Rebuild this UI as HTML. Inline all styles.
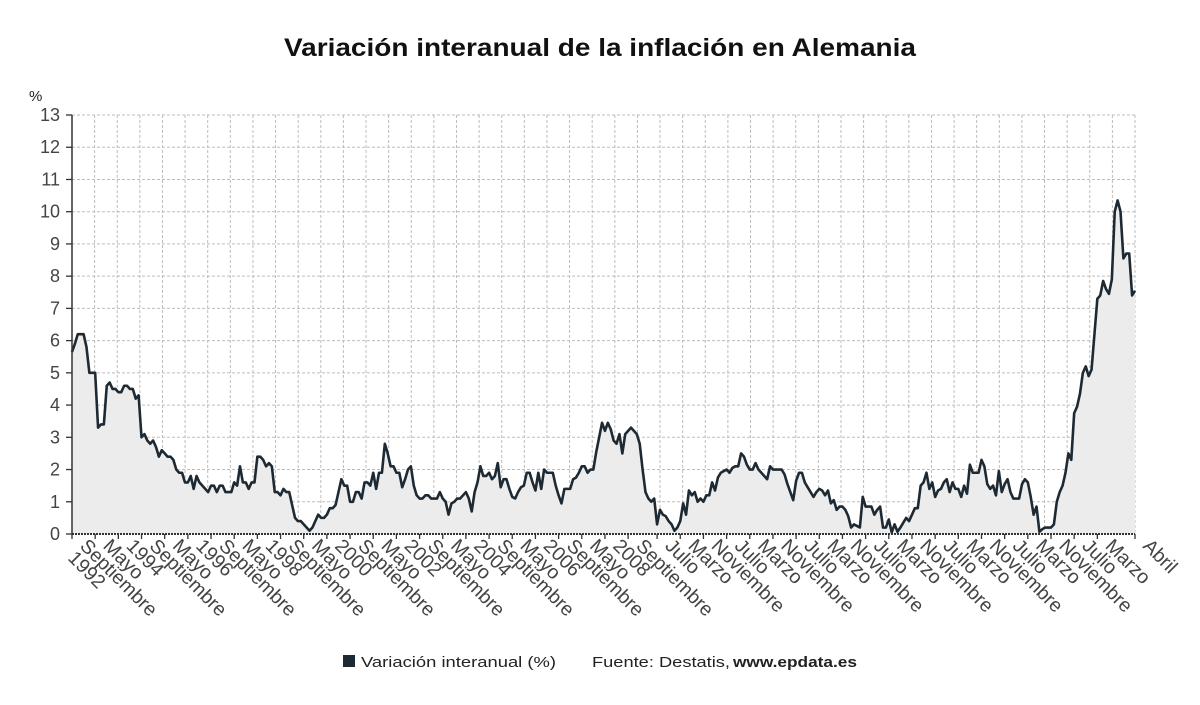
<!DOCTYPE html>
<html><head><meta charset="utf-8"><style>
html,body{margin:0;padding:0;background:#fff;}
svg{display:block;font-family:"Liberation Sans",sans-serif;}
</style></head><body>
<svg id="chart" width="1200" height="705" viewBox="0 0 1200 705">
<text x="600" y="56" text-anchor="middle" font-size="25" font-weight="bold" fill="#111" textLength="632" lengthAdjust="spacingAndGlyphs">Variación interanual de la inflación en Alemania</text>
<text x="29" y="101" font-size="15" fill="#222">%</text>
<g id="grid"></g>
<g id="area"></g>
<g id="axes"></g>
<g id="xlabels"></g>
<g>
<rect x="343" y="655" width="12" height="12" fill="#1e2a33"/>
<text x="361" y="667" font-size="15" fill="#222" textLength="195" lengthAdjust="spacingAndGlyphs">Variación interanual (%)</text>
<text x="592" y="667" font-size="15" fill="#222"><tspan textLength="138" lengthAdjust="spacingAndGlyphs">Fuente: Destatis,</tspan> <tspan font-weight="bold" x="733" textLength="124" lengthAdjust="spacingAndGlyphs">www.epdata.es</tspan></text>
</g>
</svg>
<script>
const values = [
5.65,5.9,6.2,6.2,6.2,5.8,5.0,5.0,5.0,3.3,3.4,3.4,
4.6,4.7,4.5,4.5,4.4,4.4,4.6,4.6,4.5,4.5,4.2,4.3,
3.0,3.1,2.9,2.8,2.9,2.7,2.4,2.6,2.5,2.4,2.4,2.3,
2.0,1.9,1.9,1.6,1.6,1.8,1.4,1.8,1.6,1.5,1.4,1.3,
1.5,1.5,1.3,1.5,1.5,1.3,1.3,1.3,1.6,1.5,2.1,1.6,
1.6,1.4,1.6,1.6,2.4,2.4,2.3,2.1,2.2,2.1,1.3,1.3,
1.2,1.4,1.3,1.3,0.9,0.5,0.4,0.4,0.3,0.2,0.1,0.2,
0.4,0.6,0.5,0.5,0.6,0.8,0.8,0.9,1.3,1.7,1.5,1.5,
1.0,1.0,1.3,1.3,1.1,1.6,1.6,1.5,1.9,1.4,1.9,1.9,
2.8,2.5,2.1,2.1,1.9,1.9,1.45,1.7,2.0,2.1,1.5,1.2,
1.1,1.1,1.2,1.2,1.1,1.1,1.1,1.3,1.1,1.0,0.6,0.95,
1.0,1.1,1.1,1.2,1.3,1.1,0.7,1.3,1.6,2.1,1.8,1.8,
1.9,1.7,1.8,2.2,1.45,1.7,1.7,1.4,1.15,1.1,1.3,1.45,
1.5,1.9,1.9,1.6,1.35,1.9,1.4,2.0,1.9,1.9,1.9,1.5,
1.2,0.95,1.4,1.4,1.4,1.7,1.75,1.9,2.1,2.1,1.9,2.0,
2.0,2.55,3.0,3.45,3.2,3.45,3.25,2.9,2.8,3.1,2.5,3.1,
3.2,3.3,3.2,3.1,2.8,2.0,1.3,1.1,1.0,1.1,0.3,0.75,
0.6,0.55,0.4,0.3,0.1,0.2,0.4,0.95,0.6,1.35,1.2,1.3,
1.0,1.1,1.0,1.2,1.2,1.6,1.35,1.75,1.9,1.95,2.0,1.9,
2.05,2.1,2.1,2.5,2.4,2.15,2.0,2.0,2.2,2.0,1.9,1.8,
1.7,2.1,2.0,2.0,2.0,2.0,1.85,1.55,1.3,1.05,1.65,1.9,
1.9,1.6,1.45,1.3,1.15,1.3,1.4,1.35,1.2,1.35,0.95,1.05,
0.75,0.85,0.85,0.75,0.55,0.2,0.3,0.25,0.2,1.15,0.85,0.85,
0.85,0.6,0.75,0.85,0.2,0.2,0.45,0.05,0.3,0.07,0.2,0.35,
0.5,0.4,0.6,0.8,0.8,1.5,1.6,1.9,1.4,1.6,1.15,1.35,
1.4,1.6,1.7,1.3,1.6,1.4,1.4,1.15,1.5,1.25,2.15,1.9,
1.9,1.9,2.3,2.1,1.55,1.4,1.5,1.2,1.95,1.3,1.55,1.7,
1.3,1.1,1.1,1.1,1.55,1.7,1.6,1.15,0.6,0.85,0.07,0.15,
0.2,0.2,0.2,0.3,1.0,1.3,1.5,1.9,2.5,2.3,3.75,3.95,
4.35,5.0,5.2,4.9,5.1,6.2,7.3,7.4,7.85,7.6,7.45,7.9,
10.0,10.35,10.0,8.55,8.7,8.7,7.4,7.55
];
const yTicks = [0,1,2,3,4,5,6,7,8,9,10,11,12,13];
const xLabelText = ["Septiembre|1992","Mayo","1994","Septiembre","Mayo","1996","Septiembre","Mayo","1998","Septiembre","Mayo","2000","Septiembre","Mayo","2002","Septiembre","Mayo","2004","Septiembre","Mayo","2006","Septiembre","Mayo","2008","Septiembre",
"Julio","Marzo","Noviembre","Julio","Marzo","Noviembre","Julio","Marzo","Noviembre","Julio","Marzo","Noviembre","Julio","Marzo","Noviembre","Julio","Marzo","Noviembre","Julio","Marzo","Abril"];
const xLabelMonth = [0,8,16,24,32,40,48,56,64,72,80,88,96,104,112,120,128,136,144,152,160,168,176,184,192,
202,210,218,226,234,242,250,258,266,274,282,290,298,306,314,322,330,338,346,354,367];

const NS="http://www.w3.org/2000/svg";
const X0=72,X1=1135,Y0=534,Y1=115,YMAX=13;
const xs=m=>X0+m*(X1-X0)/(values.length-1);
const ys=v=>Y0-v*(Y0-Y1)/YMAX;
function mk(tag,attrs,parent){const e=document.createElementNS(NS,tag);for(const k in attrs)e.setAttribute(k,attrs[k]);parent.appendChild(e);return e;}
const grid=document.getElementById('grid'),area=document.getElementById('area'),axes=document.getElementById('axes'),xl=document.getElementById('xlabels');
for(const t of yTicks){if(t===0)continue;
 const l=mk('line',{x1:X0,x2:X1,y1:ys(t),y2:ys(t),stroke:'#bdbdbd','stroke-width':1,'stroke-dasharray':'3,2'},grid);
 
 }
for(let j=0;j<=47;j++){const x=X0+j*(X1-X0)/47;
 const l=mk('line',{x1:x,x2:x,y1:Y1,y2:Y0,stroke:'#bdbdbd','stroke-width':1,'stroke-dasharray':'3,2'},grid);
 
 }
let d='';values.forEach((v,i)=>{d+=(i?'L':'M')+xs(i).toFixed(2)+','+ys(v).toFixed(2);});
const fill=mk('path',{d:d+'L'+xs(values.length-1)+','+Y0+'L'+X0+','+Y0+'Z',fill:'#ececec'},area);


const line=mk('path',{d:d,fill:'none',stroke:'#1e2a33','stroke-width':2.6,'stroke-linejoin':'round'},area);


const ya=mk('line',{x1:X0,x2:X0,y1:Y1,y2:Y0,stroke:'#333','stroke-width':1.5},axes);


const xa=mk('line',{x1:X0,x2:X1,y1:Y0,y2:Y0,stroke:'#333','stroke-width':2,'stroke-dasharray':'2,1'},axes);


for(const t of yTicks){
 const tk=mk('line',{x1:X0-6,x2:X0,y1:ys(t),y2:ys(t),stroke:'#333','stroke-width':1.3},axes);
 
 
 const tx=mk('text',{x:60,y:ys(t)+6,'text-anchor':'end','font-size':18,fill:'#444'},axes);
 tx.textContent=t;
 
 }
xLabelMonth.forEach((m,i)=>{const x=xs(m);
 const tk=mk('line',{x1:x,x2:x,y1:Y0,y2:Y0+5,stroke:'#333','stroke-width':1.3},axes);
 
 
 const ax=x+7,ay=547;
 const g=mk('text',{x:ax,y:ay,'font-size':19.5,fill:'#444',transform:'rotate(45 '+ax+' '+ay+')'},xl);
 
 
 const parts=xLabelText[i].split('|');
 parts.forEach((p,k)=>{const s=mk('tspan',{x:ax,dy:k?17:0},g);s.textContent=p;});
});
</script>
</body></html>
